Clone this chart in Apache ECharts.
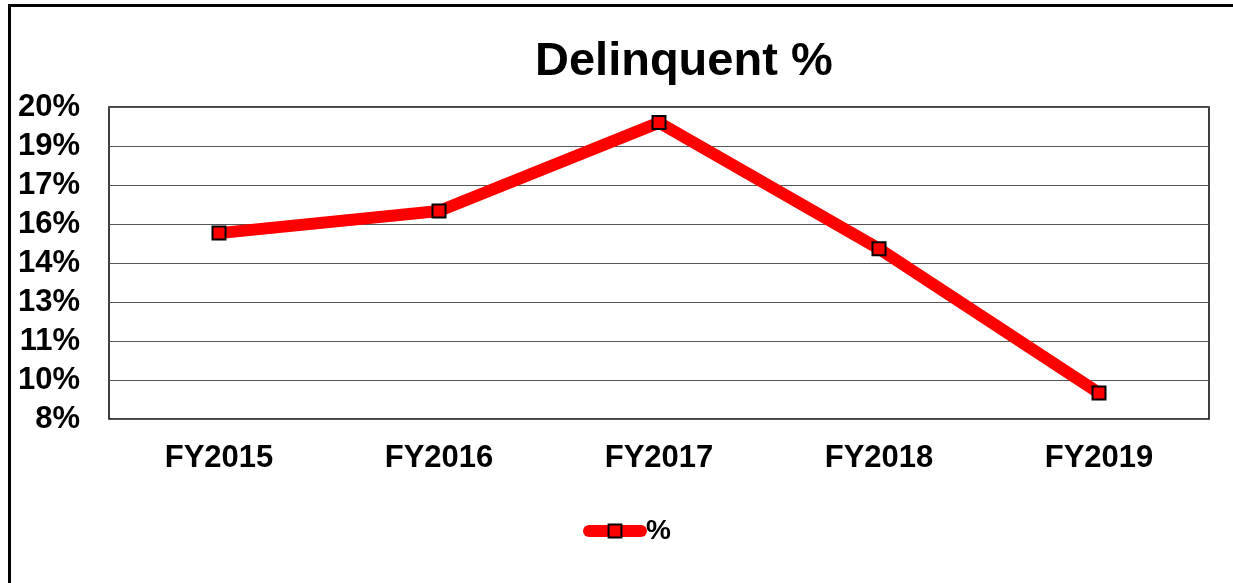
<!DOCTYPE html>
<html>
<head>
<meta charset="utf-8">
<script src="https://cdn.jsdelivr.net/npm/echarts@6/dist/echarts.min.js"></script>
<style>
html,body{margin:0;padding:0;background:#fff;}
#c{width:1233px;height:583px;}
</style>
</head>
<body>
<div id="c"></div>
<script>
const categories = ['FY2015', 'FY2016', 'FY2017', 'FY2018', 'FY2019'];
const delinquentPct = [15.15, 16.0, 19.4, 14.55, 9.0];
const seriesName = '%';
const titleText = 'Delinquent %';

const chart = echarts.init(document.getElementById('c'));
const font = 'Liberation Sans, Arial, sans-serif';
chart.setOption({
  animation: false,
  backgroundColor: '#fff',
  title: {
    text: titleText,
    left: 535,
    top: 39,
    padding: 0,
    textStyle: {fontFamily: font, fontSize: 47, fontWeight: 'bold', color: '#000'}
  },
  grid: {left: 109, right: 24, top: 107, bottom: 164, show: true, borderColor: '#000', borderWidth: 1.5},
  legend: {
    data: [seriesName],
    left: 578,
    top: 512,
    itemWidth: 52,
    itemHeight: 16,
    itemGap: 4,
    lineStyle: {width: 12, cap: 'round'},
    textStyle: {fontFamily: font, fontSize: 28, fontWeight: 'bold', color: '#000', padding: [0,0,0,0]}
  },
  xAxis: {
    type: 'category',
    data: categories,
    boundaryGap: true,
    axisLine: {show: false},
    axisTick: {show: false},
    axisLabel: {fontFamily: font, fontSize: 31, fontWeight: 'bold', color: '#000', margin: 24}
  },
  yAxis: {
    type: 'value',
    min: 8,
    max: 20,
    interval: 1.5,
    axisLine: {show: false},
    axisTick: {show: false},
    splitLine: {lineStyle: {color: '#555', width: 1}},
    axisLabel: {
      fontFamily: font, fontSize: 31, fontWeight: 'bold', color: '#000', margin: 29,
      formatter: v => Math.round(v) + '%'
    }
  },
  series: [{
    name: seriesName,
    type: 'line',
    data: delinquentPct,
    lineStyle: {color: '#ff0000', width: 12},
    itemStyle: {color: '#ff0000', borderColor: '#000', borderWidth: 2},
    symbol: 'rect',
    symbolSize: 13,
    showAllSymbol: true
  }],
  graphic: [{
    type: 'rect',
    shape: {x: 9.5, y: 5.5, width: 1400, height: 800},
    style: {fill: 'none', stroke: '#000', lineWidth: 3},
    silent: true,
    z: 100
  }]
});
</script>
</body>
</html>
